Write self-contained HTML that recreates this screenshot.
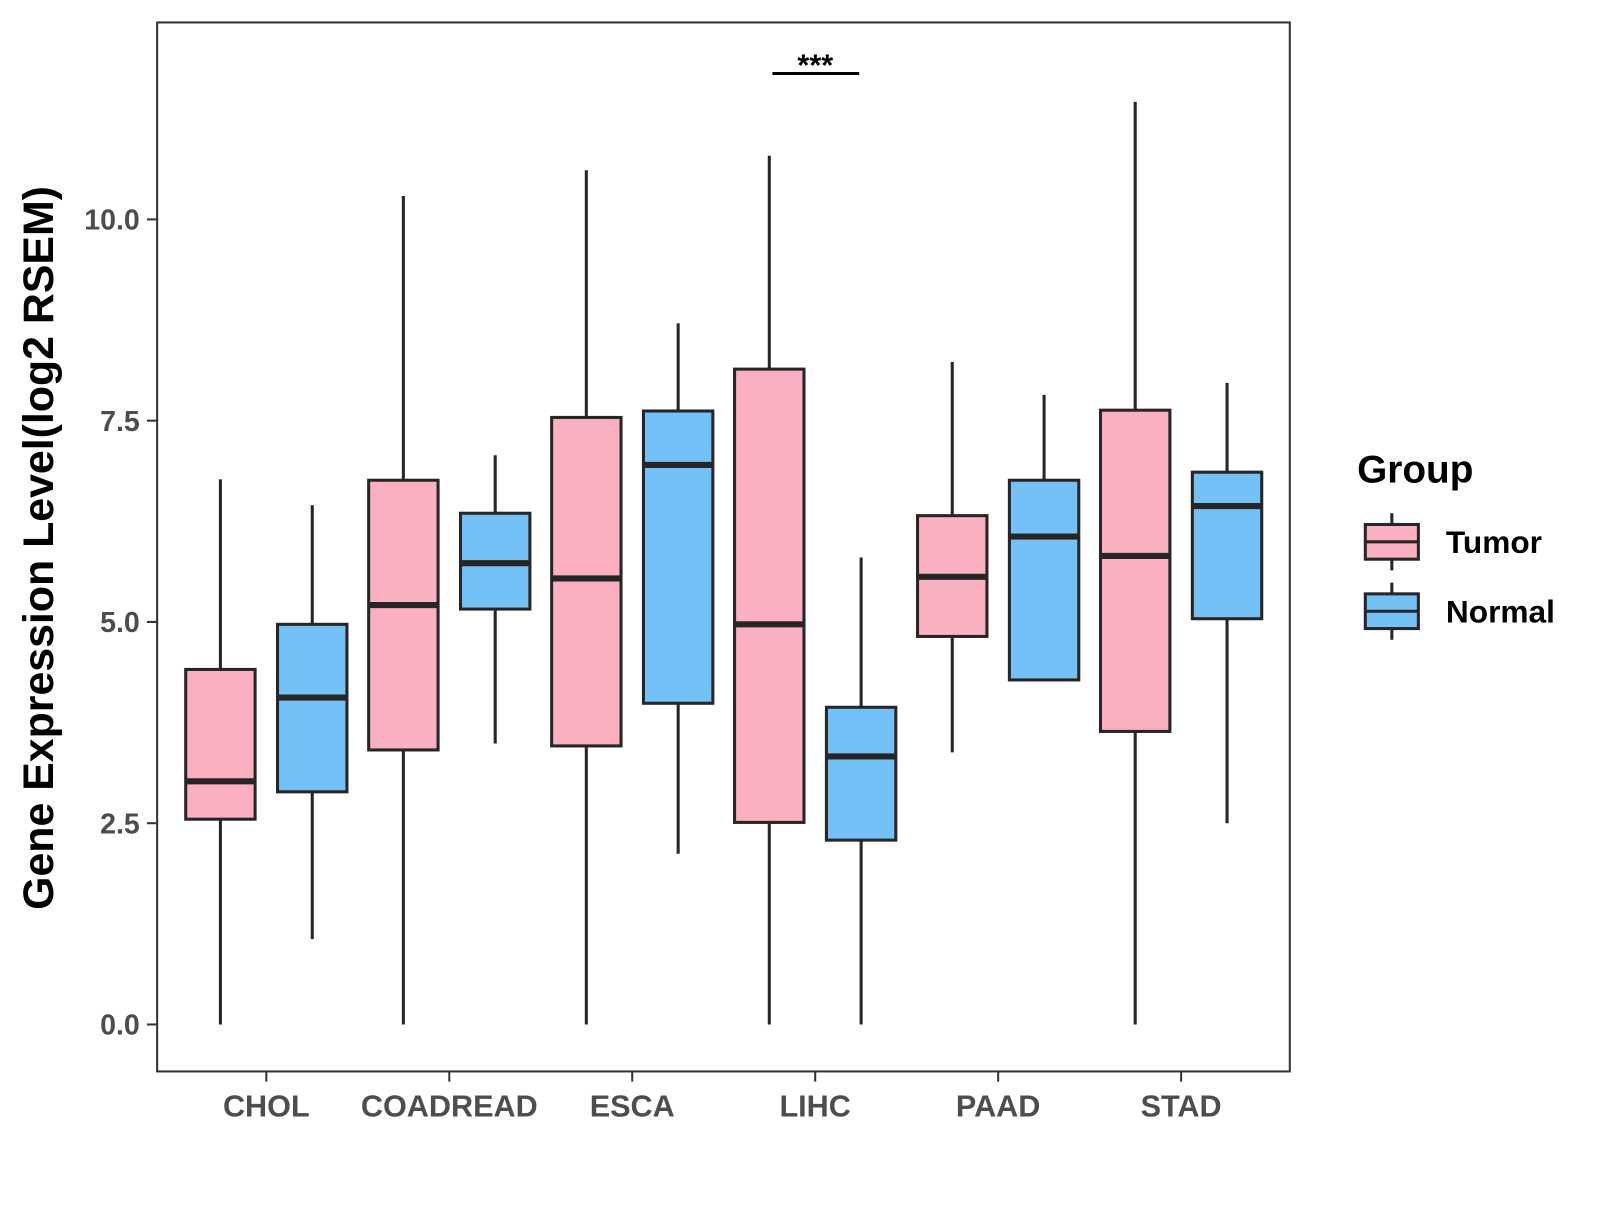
<!DOCTYPE html>
<html><head><meta charset="utf-8"><style>
body{margin:0;background:#fff}
svg text{font-family:"Liberation Sans",Arial,sans-serif;font-weight:bold}
</style></head><body>
<svg id="chart" width="1600" height="1200" viewBox="0 0 1568 1176" xmlns="http://www.w3.org/2000/svg">
<rect x="154" y="22" width="1110" height="1028" fill="#fff" stroke="#333" stroke-width="2"/>
<g id="boxmarks"></g>
<g id="axisgroup"></g>
<text x="52" y="537" font-size="42" fill="#000" text-anchor="middle" transform="rotate(-90 52 537)">Gene Expression Level(log2 RSEM)</text>
<g>
<line x1="757" y1="72" x2="842" y2="72" stroke="#000" stroke-width="3"/>
<text x="799" y="74" font-size="30" text-anchor="middle" fill="#000">***</text>
</g>
<g>
<text x="1330" y="473" font-size="38" fill="#000">Group</text>
<g>
<line x1="1364" y1="503" x2="1364" y2="559" stroke="#262626" stroke-width="3"/>
<rect x="1338" y="514" width="52" height="34" fill="#FBB0C1" stroke="#262626" stroke-width="3"/>
<line x1="1338" y1="531" x2="1390" y2="531" stroke="#262626" stroke-width="3"/>
<text x="1417" y="542" font-size="31" fill="#000">Tumor</text></g>
<g>
<line x1="1364" y1="571" x2="1364" y2="627" stroke="#262626" stroke-width="3"/>
<rect x="1338" y="582" width="52" height="34" fill="#74C1F8" stroke="#262626" stroke-width="3"/>
<line x1="1338" y1="599" x2="1390" y2="599" stroke="#262626" stroke-width="3"/>
<text x="1417" y="610" font-size="31" fill="#000">Normal</text></g>
</g>
</svg>
<script>
const categories=["CHOL","COADREAD","ESCA","LIHC","PAAD","STAD"];
const tumorMin=[0,0,0,0,3.38,0];
const tumorQ1=[2.55,3.41,3.46,2.51,4.82,3.64];
const tumorMed=[3.02,5.21,5.54,4.97,5.56,5.82];
const tumorQ3=[4.41,6.76,7.54,8.14,6.32,7.63];
const tumorMax=[6.77,10.29,10.61,10.79,8.23,11.46];
const normalMin=[1.06,3.49,2.12,0,4.28,2.50];
const normalQ1=[2.89,5.16,3.99,2.29,4.28,5.04];
const normalMed=[4.06,5.73,6.95,3.33,6.06,6.44];
const normalQ3=[4.97,6.35,7.62,3.94,6.76,6.86];
const normalMax=[6.45,7.07,8.71,5.80,7.82,7.97];
const yTicks=[0,2.5,5,7.5,10];
const yTickLabels=["0.0","2.5","5.0","7.5","10.0"];
const SVGNS="http://www.w3.org/2000/svg";
function scaleY(v){return 1004-Number(v)*78.9;}
function scaleX(i){return 261+i*179.3;}
function addEl(tag,parent){const e=document.createElementNS(SVGNS,tag);parent.appendChild(e);return e;}
function setA(e,k,v){e.setAttribute(k,String(v));}
const boxG=document.getElementById('boxmarks'),axG=document.getElementById('axisgroup');
const seriesList=[
 {name:'tumor',off:-45,fill:'#FBB0C1',mn:tumorMin,q1:tumorQ1,md:tumorMed,q3:tumorQ3,mx:tumorMax},
 {name:'normal',off:45,fill:'#74C1F8',mn:normalMin,q1:normalQ1,md:normalMed,q3:normalQ3,mx:normalMax}];
for(let i=0;i<categories.length;i++){
 const c=categories[i];
 for(const s of seriesList){
  const cx=scaleX(i)+s.off,bw=68;
  const top=scaleY(s.q3[i]),bot=scaleY(s.q1[i]),med=scaleY(s.md[i]);
  const g=addEl('g',boxG);
  
  
  const wl=addEl('line',g);
  setA(wl,'x1',cx);setA(wl,'x2',cx);setA(wl,'y1',scaleY(s.mx[i]));setA(wl,'y2',scaleY(s.mn[i]));
  setA(wl,'stroke','#262626');setA(wl,'stroke-width',3);
  const r=addEl('rect',g);
  setA(r,'x',cx-bw/2);setA(r,'y',top);setA(r,'width',bw);setA(r,'height',bot-top);
  setA(r,'fill',s.fill);setA(r,'stroke','#262626');setA(r,'stroke-width',3);
  const ml=addEl('line',g);
  setA(ml,'x1',cx-bw/2);setA(ml,'x2',cx+bw/2);setA(ml,'y1',med);setA(ml,'y2',med);
  setA(ml,'stroke','#262626');setA(ml,'stroke-width',6);
 }
 const t=addEl('line',axG);
 setA(t,'x1',scaleX(i));setA(t,'x2',scaleX(i));setA(t,'y1',1050);setA(t,'y2',1060);
 setA(t,'stroke','#333');setA(t,'stroke-width',2);
 
 
 const l=addEl('text',axG);
 setA(l,'x',scaleX(i));setA(l,'y',1094);setA(l,'font-size',30);setA(l,'text-anchor','middle');setA(l,'fill','#4d4d4d');
 l.textContent=c;
 
 
}
for(let i=0;i<yTicks.length;i++){
 const yy=scaleY(yTicks[i]);
 const t=addEl('line',axG);
 setA(t,'x1',144);setA(t,'x2',154);setA(t,'y1',yy);setA(t,'y2',yy);
 setA(t,'stroke','#333');setA(t,'stroke-width',2);
 
 
 const l=addEl('text',axG);
 setA(l,'x',137);setA(l,'y',yy+10);setA(l,'font-size',28);setA(l,'text-anchor','end');setA(l,'fill','#4d4d4d');
 l.textContent=yTickLabels[i];
 
 
}
</script>
</body></html>
